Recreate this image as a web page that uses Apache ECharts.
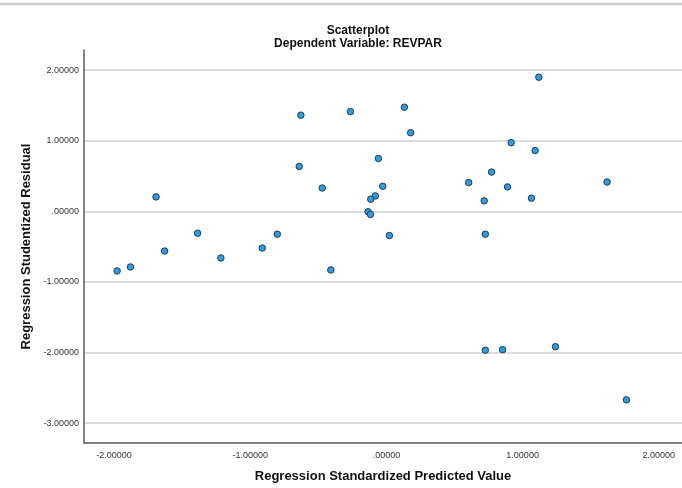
<!DOCTYPE html>
<html>
<head>
<meta charset="utf-8">
<script src="https://cdn.jsdelivr.net/npm/echarts@6/dist/echarts.min.js"></script>
<style>
html,body{margin:0;padding:0;background:#fff;}
#chart{width:682px;height:488px;}
</style>
</head>
<body>
<div id="chart"></div>
<script>
// Regression Standardized Predicted Value (x) and Studentized Residual (y)
const predicted = [-1.977,-1.879,-1.691,-1.628,-1.386,-1.215,-0.911,-0.801,
  -0.628,-0.264,0.132,0.178,-0.640,-0.059,-0.471,-0.027,-0.081,-0.115,-0.134,-0.117,0.022,-0.408,0.604,
  1.119,0.916,1.092,0.772,0.889,0.718,1.065,1.620,0.726,
  0.726,0.853,1.241,1.762];
const residual = [-0.843,-0.787,0.205,-0.562,-0.309,-0.660,-0.520,-0.323,
  1.362,1.413,1.475,1.114,0.636,0.749,0.331,0.355,0.219,0.173,-0.005,-0.043,-0.342,-0.829,0.407,
  1.900,0.973,0.861,0.556,0.346,0.149,0.187,0.416,-0.323,
  -1.966,-1.958,-1.916,-2.669];
const xTicks = [-2,-1,0,1,2];
const yTicks = [2,1,0,-1,-2,-3];
const titleText = 'Scatterplot\nDependent Variable: REVPAR';
const xName = 'Regression Standardized Predicted Value';
const yName = 'Regression Studentized Residual';

const points = predicted.map((v,i)=>[v,residual[i]]);
function fmt(v){
  return Number(v).toFixed(5).replace(/^(-?)0\./,'$1.');
}
const chart = echarts.init(document.getElementById('chart'),null,{renderer:'canvas'});
chart.setOption({
  backgroundColor:'#ffffff',
  animation:false,
  textStyle:{fontFamily:'Liberation Sans, Arial, sans-serif'},
  title:{
    text:titleText,
    left:353, top:19, textAlign:'center',
    textStyle:{fontSize:12,fontWeight:'bold',color:'#111',lineHeight:13,fontFamily:'Liberation Sans, Arial, sans-serif'}
  },
  graphic:[{
    type:'line', shape:{x1:0,y1:4,x2:682,y2:4},
    style:{stroke:'#cccccc',lineWidth:2.5}, silent:true
  }],
  grid:{left:84,right:0,top:50,bottom:42,containLabel:false},
  xAxis:{
    type:'value', min:-2.22, max:2.17,
    name:xName, nameLocation:'middle', nameGap:27,
    nameTextStyle:{fontSize:13,fontWeight:'bold',color:'#111'},
    axisLine:{show:true,onZero:false,lineStyle:{color:'#5a5a5a',width:1.5}},
    axisTick:{show:false,customValues:xTicks},
    axisLabel:{customValues:xTicks,formatter:fmt,fontSize:9,color:'#333',margin:8},
    splitLine:{show:false}
  },
  yAxis:{
    type:'value', min:-3.28, max:2.285,
    name:yName, nameLocation:'middle', nameGap:48,
    nameTextStyle:{fontSize:13,fontWeight:'bold',color:'#111'},
    axisLine:{show:true,onZero:false,lineStyle:{color:'#5a5a5a',width:1.5}},
    axisTick:{show:false,customValues:yTicks},
    axisLabel:{customValues:yTicks,formatter:fmt,fontSize:9,color:'#333',margin:5},
    splitLine:{show:true,lineStyle:{color:'#d0d0d0',width:1.5}}
  },
  series:[{
    type:'scatter',
    data:points,
    symbol:'circle',
    symbolSize:6.5,
    itemStyle:{color:'#2a9de4',borderColor:'#2b3a48',borderWidth:1,opacity:1}
  }]
});
</script>
</body>
</html>
